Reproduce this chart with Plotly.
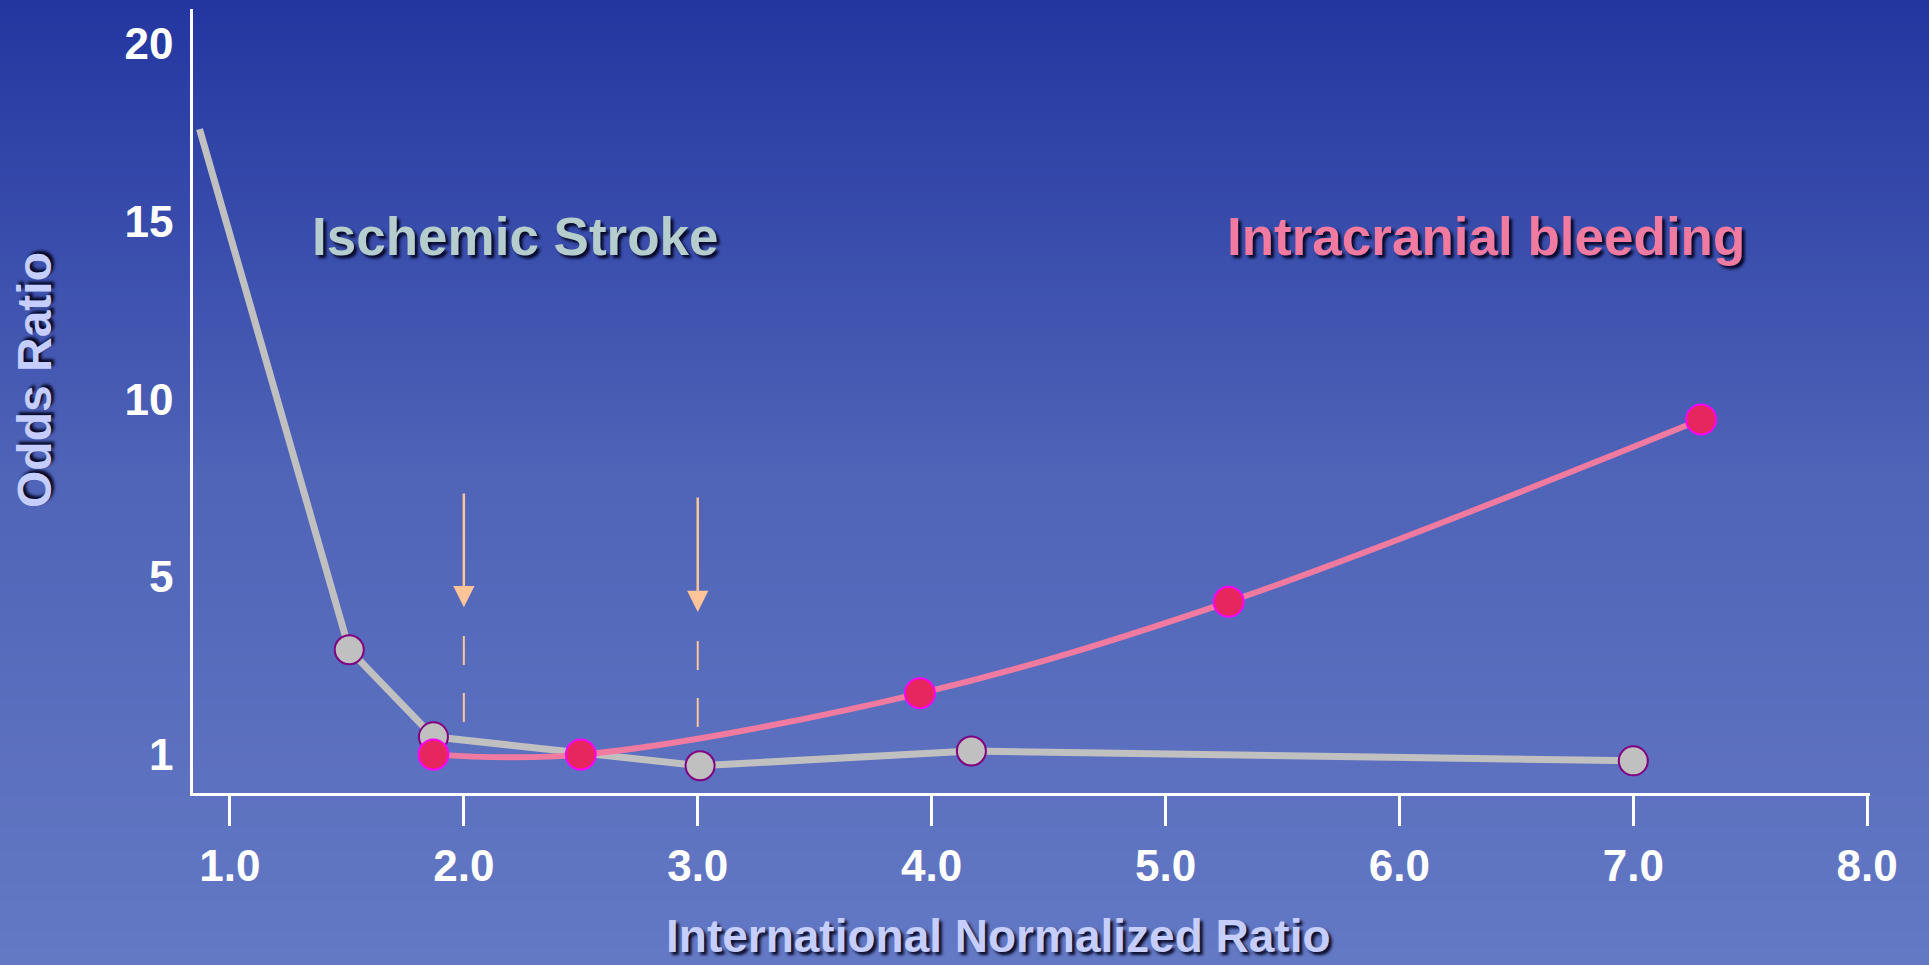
import numpy as np
import plotly.graph_objects as go

W, H = 1929, 965

# ---------------- data ----------------
x_ticks = [1, 2, 3, 4, 5, 6, 7, 8]
x_tick_labels = ["1.0", "2.0", "3.0", "4.0", "5.0", "6.0", "7.0", "8.0"]
y_ticks = [1, 5, 10, 15, 20]
y_tick_labels = ["1", "5", "10", "15", "20"]

ischemic_inr = [0.87, 1.51, 1.87, 3.01, 4.17, 7.00]
ischemic_or = [17.6, 3.36, 1.40, 0.75, 1.08, 0.86]
ischemic_marker_shown = [0, 1, 1, 1, 1, 1]

bleeding_inr = [1.87, 2.50, 3.95, 5.27, 7.29]
bleeding_or = [1.00, 1.00, 2.38, 4.44, 9.43]

arrow_inr = [2.0, 3.0]
arrow_tail_or = [7.39, 7.28]
arrow_tip_or = [4.32, 4.21]
dash_from_or = [3.67, 3.56]
dash_to_or = [1.71, 1.60]

label_ischemic = "Ischemic Stroke"
label_bleeding = "Intracranial bleeding"
x_title = "International Normalized Ratio"
y_title = "Odds Ratio"


# The original odds-ratio axis places 1, 5, 10, 15, 20 at equal spacing.
def or_axis(v):
    v = np.asarray(v, dtype=float)
    knots = np.array(y_ticks, dtype=float)
    pos = np.arange(len(knots), dtype=float)
    out = np.interp(v, knots, pos)
    lo = v < knots[0]
    out[lo] = (v[lo] - knots[0]) / (knots[1] - knots[0])
    hi = v > knots[-1]
    out[hi] = pos[-1] + (v[hi] - knots[-1]) / (knots[-1] - knots[-2])
    return out


# ---------------- style ----------------
FONT = "Liberation Sans, Arial, sans-serif"
GREY = "#C0C0C0"
GREY_EDGE = "#800080"
PINK_LINE = "#F07AA0"
PINK_FILL = "#E8265E"
PINK_EDGE = "#FF00FF"
PEACH = "#FFC497"
LAVENDER = "#C5CEFF"
SHADOW = "3px 3px 3px rgba(0,0,25,0.9)"

fig = go.Figure()

# ischemic stroke
fig.add_trace(go.Scatter(
    x=ischemic_inr, y=or_axis(ischemic_or), mode="lines+markers",
    line=dict(color=GREY, width=7),
    marker=dict(size=29, color=GREY, opacity=ischemic_marker_shown,
                line=dict(color=GREY_EDGE, width=2)),
    showlegend=False, hoverinfo="skip",
))
# intracranial bleeding
fig.add_trace(go.Scatter(
    x=bleeding_inr, y=or_axis(bleeding_or), mode="lines",
    line=dict(color=PINK_LINE, width=6, shape="spline", smoothing=1.0),
    showlegend=False, hoverinfo="skip",
))
fig.add_trace(go.Scatter(
    x=bleeding_inr, y=or_axis(bleeding_or), mode="markers",
    marker=dict(size=30, color=PINK_FILL, line=dict(color=PINK_EDGE, width=2)),
    showlegend=False, hoverinfo="skip",
))

# background gradient (full page)
stops_y = [0.0, 0.5, 1.0]
stops_c = [(35, 54, 160), (80, 100, 184), (100, 121, 196)]
n_bands = 120
shapes = []
for k in range(n_bands):
    t0 = k / n_bands
    t1 = (k + 1) / n_bands
    tm = (t0 + t1) / 2
    rgb = [int(round(np.interp(tm, stops_y, [c[j] for c in stops_c]))) for j in range(3)]
    shapes.append(dict(type="rect", xref="paper", yref="paper", x0=0, x1=1,
                       y0=1 - t1, y1=1 - t0 + 0.002, layer="below",
                       line=dict(width=0), fillcolor=f"rgb({rgb[0]},{rgb[1]},{rgb[2]})"))

# dashed guide segments under the arrows
ya_from = or_axis(dash_from_or)
ya_to = or_axis(dash_to_or)
for xv, y0, y1 in zip(arrow_inr, ya_from, ya_to):
    shapes.append(dict(type="line", xref="x", yref="y", x0=xv, x1=xv, y0=y0, y1=y1,
                       line=dict(color=PEACH, width=2, dash="29px,28px")))

annotations = []
yt_tail = or_axis(arrow_tail_or)
yt_tip = or_axis(arrow_tip_or)
for xv, ytail, ytip in zip(arrow_inr, yt_tail, yt_tip):
    annotations.append(dict(x=xv, y=ytip, ax=xv, ay=ytail, xref="x", yref="y",
                            axref="x", ayref="y", text="", showarrow=True,
                            arrowhead=2, arrowsize=1.7, arrowwidth=2.5,
                            arrowcolor=PEACH, standoff=0, startstandoff=0))

annotations.append(dict(x=515 / W, y=1 - 236 / H, xref="paper", yref="paper",
                        text=label_ischemic, showarrow=False, xanchor="center", yanchor="middle",
                        font=dict(family=FONT, size=53, color="#B6CDCD", weight="bold", shadow=SHADOW)))
annotations.append(dict(x=1486 / W, y=1 - 237 / H, xref="paper", yref="paper",
                        text=label_bleeding, showarrow=False, xanchor="center", yanchor="middle",
                        font=dict(family=FONT, size=53, color=PINK_LINE, weight="bold", shadow=SHADOW)))
annotations.append(dict(x=998 / W, y=0.0, xref="paper", yref="paper",
                        text=x_title, showarrow=False, xanchor="center", yanchor="bottom",
                        yshift=1,
                        font=dict(family=FONT, size=46, color=LAVENDER, weight="bold", shadow=SHADOW)))
annotations.append(dict(x=34 / W, y=1 - 380 / H, xref="paper", yref="paper",
                        text=y_title, showarrow=False, textangle=-90,
                        xanchor="center", yanchor="middle",
                        font=dict(family=FONT, size=48, color=LAVENDER, weight="bold", shadow=SHADOW)))

tick_font = dict(family=FONT, size=44, color="white", weight="bold")

fig.update_layout(
    width=W, height=H, autosize=False,
    margin=dict(l=0, r=0, t=0, b=0, pad=0, autoexpand=False),
    paper_bgcolor="#2336A0", plot_bgcolor="rgba(0,0,0,0)",
    shapes=shapes, annotations=annotations,
    xaxis=dict(domain=[193 / W, 1870 / W], range=[0.842, 8.012],
               tickvals=x_ticks, ticktext=x_tick_labels, ticks="outside",
               ticklen=30, tickwidth=2.5, tickcolor="white",
               showline=True, linecolor="white", linewidth=2.5,
               showgrid=False, zeroline=False, tickfont=tick_font,
               ticklabelstandoff=2, automargin=False),
    yaxis=dict(domain=[1 - 793 / H, 1 - 9 / H], range=[-0.216, 4.196],
               tickvals=list(or_axis(y_ticks)), ticktext=y_tick_labels, ticks="",
               showline=True, linecolor="white", linewidth=2.5,
               showgrid=False, zeroline=False, tickfont=tick_font,
               ticklabelstandoff=8, automargin=False),
)

fig.write_html("out.html", config={"displayModeBar": False},
               post_script="document.body.style.margin='0';document.body.style.overflow='hidden';")
